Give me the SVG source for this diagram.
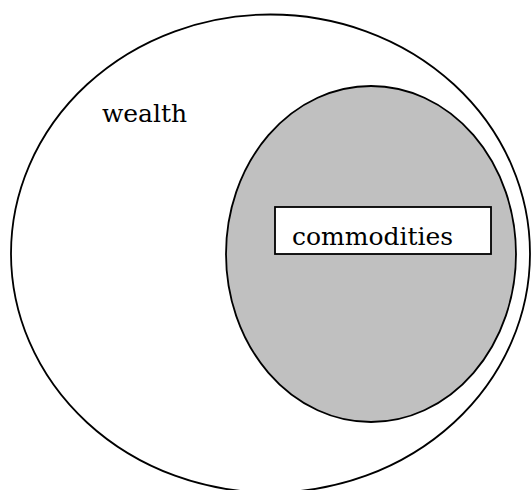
<svg xmlns="http://www.w3.org/2000/svg" width="531" height="490" viewBox="0 0 531 490">
<style>
.shape{stroke:#000;stroke-width:1.8}
.lbl{font-family:"DejaVu Serif","Liberation Serif",serif;font-size:25px;fill:#000}
</style>
<rect width="531" height="490" fill="#fff"/>
<g id="wealth">
<ellipse class="shape" cx="270.5" cy="253.5" rx="259.5" ry="239" fill="#fff"/>
<text class="lbl" x="102" y="122" textLength="85">wealth</text>
</g>
<g id="commodities-set">
<ellipse class="shape" cx="371" cy="254" rx="145" ry="168" fill="#c0c0c0"/>
</g>
<g id="commodities">
<rect class="shape" x="275" y="207" width="216" height="47" fill="#fff"/>
<text class="lbl" x="292" y="245" textLength="161">commodities</text>
</g>
<g id="connectors"/>
</svg>
